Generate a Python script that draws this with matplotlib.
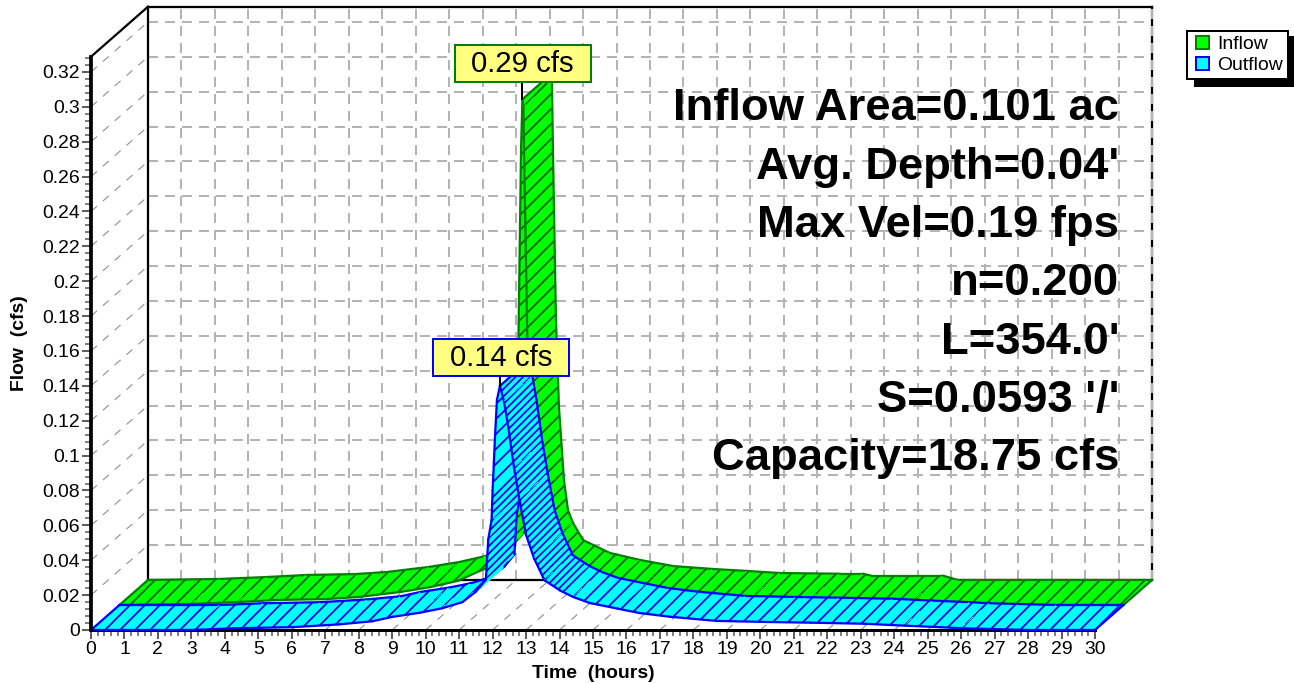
import numpy as np
import matplotlib
matplotlib.use('Agg')
import matplotlib.pyplot as plt
from matplotlib.legend_handler import HandlerPatch
from matplotlib.patches import Patch, Rectangle
from matplotlib.ticker import MultipleLocator, FuncFormatter

plt.rcParams['font.family'] = ['Liberation Sans', 'DejaVu Sans']
plt.rcParams['hatch.linewidth'] = 1.4

# values
inflow_t = [0, 2.15, 3.55, 4.75, 6.2, 7.15, 8.4, 9.3, 10.1, 10.94, 11.23, 11.5, 11.7, 11.85, 11.92, 12.0, 12.04,
            12.07, 12.1, 12.19, 12.28, 12.43, 12.55, 12.7, 13.0, 13.3, 13.8, 14.7, 15.69, 16.88, 17.9, 18.88,
            20.68, 21.36, 21.6, 23.75, 24.2, 30]
inflow_q = [0, 0.0006, 0.0017, 0.0029, 0.0034, 0.0046, 0.0075, 0.0103, 0.0138, 0.021, 0.027, 0.04, 0.06, 0.1, 0.152, 0.2625, 0.29,
            0.2855, 0.2466, 0.149, 0.099, 0.057, 0.04, 0.0327, 0.0229, 0.0201, 0.0155, 0.0115, 0.008, 0.0063, 0.0052, 0.004,
            0.0036, 0.0036, 0.0025, 0.0025, 0, 0]
outflow_t = [0, 3, 4.3, 6, 7.4, 8.4, 9, 9.85, 10.5, 11.1, 11.5, 11.8, 11.87, 11.97, 12.0, 12.07, 12.13, 12.22,
             12.34, 12.46, 12.64, 12.8, 13, 13.24, 13.55, 14.03, 14.4, 14.9, 15.75, 16.4, 17.3, 18.7, 20.2,
             21.5, 23.1, 24.3, 25.4, 26, 28, 30]
outflow_q = [0, 0, 0.001, 0.0016, 0.0032, 0.005, 0.0075, 0.01, 0.0125, 0.016, 0.022, 0.029, 0.052, 0.063, 0.08, 0.11, 0.132, 0.14,
             0.131, 0.1175, 0.093, 0.075, 0.0545, 0.041, 0.0285, 0.0225, 0.019, 0.0155, 0.0122, 0.0097, 0.0076, 0.0052, 0.0046,
             0.0042, 0.0036, 0.0025, 0.0016, 0.001, 0, 0]
# stretches of the outflow where the hatch looks doubled
outflow_dense = [(11.5, 12.0), (12.22, 14.0)]
info_lines = ['Inflow Area=0.101 ac', "Avg. Depth=0.04'", 'Max Vel=0.19 fps', 'n=0.200',
              "L=354.0'", "S=0.0593 '/'", 'Capacity=18.75 cfs']

# depth of the fake 3D box, in data units
DX = 57 / 33.47
DY = 50 / 1744
XMAX = 30
YMAX = 573.3 / 1744

fig = plt.figure(figsize=(1294 / 90, 683 / 90), dpi=90)
ax = fig.add_axes([91 / 1294, 1 - 630 / 683, 1004 / 1294, 573.3 / 683])
ax.set_xlim(0, XMAX)
ax.set_ylim(0, YMAX)
ax.patch.set_alpha(0)

# back wall grid
GRID = '#b4b4b4'
dash = (0, (5, 3.5))
for h in range(1, XMAX + 1):
    ax.plot([h + DX, h + DX], [DY, YMAX + DY], color=GRID, lw=1.6, ls=dash, clip_on=False, zorder=1)
for q in np.arange(0.02, 0.321, 0.02):
    ax.plot([DX, XMAX + DX], [q + DY, q + DY], color=GRID, lw=1.6, ls=dash, clip_on=False, zorder=1)
    ax.plot([0, DX], [q, q + DY], color='#909090', lw=0.9, ls=(0, (7, 7)), clip_on=False, zorder=1)
# floor lines
for h in range(1, XMAX):
    ax.plot([h, h + DX], [0, DY], color='#909090', lw=0.9, ls=(0, (7, 7)), clip_on=False, zorder=1)

# box outline
ax.plot([DX, DX], [DY, YMAX + DY], color='k', lw=1.8, clip_on=False, zorder=1.5)
ax.plot([DX, XMAX + DX], [YMAX + DY, YMAX + DY], color='k', lw=1.8, clip_on=False, zorder=1.5)
ax.plot([DX, XMAX + DX], [DY, DY], color='k', lw=1.8, clip_on=False, zorder=1.5)
ax.plot([XMAX + DX, XMAX + DX], [DY, YMAX + DY], color='k', lw=1.8, clip_on=False, zorder=1.5)
ax.plot([XMAX + DX, XMAX + DX], [DY, YMAX + DY], color=GRID, lw=1.6, ls=dash, clip_on=False, zorder=1.6)
ax.plot([0, DX], [YMAX, YMAX + DY], color='k', lw=1.8, clip_on=False, zorder=1.5)


def ribbon(t, q, d0, d1, face, edge, hatch_col, z, dense=()):
    t = np.array(t)
    q = np.array(q)
    for i in range(len(t) - 1):
        xs = [t[i] + d0 * DX, t[i + 1] + d0 * DX, t[i + 1] + d1 * DX, t[i] + d1 * DX]
        ys = [q[i] + d0 * DY, q[i + 1] + d0 * DY, q[i + 1] + d1 * DY, q[i] + d1 * DY]
        mid = (t[i] + t[i + 1]) / 2
        pat = '////' if any(a <= mid <= b for a, b in dense) else '//'
        ax.fill(xs, ys, facecolor=face, edgecolor=hatch_col, hatch=pat, lw=0, antialiased=False,
                clip_on=False, zorder=z)
        ax.plot(xs[:2], ys[:2], color=edge, lw=1.8, clip_on=False, zorder=z, solid_capstyle='round')
        ax.plot(xs[2:], ys[2:], color=edge, lw=1.8, clip_on=False, zorder=z, solid_capstyle='round')
    peak = int(np.argmax(q))
    for i in (0, peak, len(t) - 1):
        ax.plot([t[i] + d0 * DX, t[i] + d1 * DX], [q[i] + d0 * DY, q[i] + d1 * DY],
                color=edge, lw=1.8, clip_on=False, zorder=z)


ribbon(inflow_t, inflow_q, 0.5, 1.0, '#00ff00', '#008000', '#006000', 2)
ribbon(outflow_t, outflow_q, 0.0, 0.5, '#00ffff', '#0000ff', '#0000e0', 3, outflow_dense)

# axes
for s in ('top', 'right'):
    ax.spines[s].set_visible(False)
ax.spines['left'].set_linewidth(3)
ax.spines['bottom'].set_linewidth(2.4)
ax.spines['left'].set_zorder(4)
ax.spines['bottom'].set_zorder(1.8)
ax.xaxis.set_major_locator(MultipleLocator(1))
ax.xaxis.set_minor_locator(MultipleLocator(0.2))
ax.yaxis.set_major_locator(MultipleLocator(0.02))
ax.yaxis.set_minor_locator(MultipleLocator(0.004))
ax.yaxis.set_major_formatter(FuncFormatter(lambda v, p: '%g' % round(v, 3)))
ax.set_yticks(np.arange(0, 0.321, 0.02))
ax.tick_params(axis='both', which='major', length=7, width=1.6, color='#606060', labelsize=15.5, pad=2)
ax.tick_params(axis='both', which='minor', length=5, width=1.6, color='#808080')
ax.set_xlabel('Time  (hours)', fontsize=15.5, fontweight='bold', labelpad=5)
ax.set_ylabel('Flow  (cfs)', fontsize=15.5, fontweight='bold', labelpad=11)

# peak labels
BOX_W = 136 / 33.47
BOX_H = 37 / 1744


def peak_label(text, xc, yc, px, py, edge):
    ax.plot([px, px], [py, yc], color='k', lw=1.6, clip_on=False, zorder=5)
    ax.add_patch(Rectangle((xc - BOX_W / 2, yc - BOX_H / 2), BOX_W, BOX_H, fc='#ffff80', ec=edge, lw=1.6,
                           clip_on=False, zorder=6))
    ax.text(xc, yc, text, fontsize=23.5, ha='center', va='center', zorder=7)


peak_label('0.29 cfs', 12.9, 0.3248, 12.04 + 0.5 * DX, 0.29 + 0.5 * DY, '#008000')
peak_label('0.14 cfs', 12.25, 0.156, 12.22, 0.14, '#0000ff')

# info block
for i, line in enumerate(info_lines):
    fig.text(1119 / 1294, 1 - (109 + 58.3 * i) / 683, line, ha='right', va='center', fontsize=36.3, fontweight='bold', zorder=7)


# legend swatch sits a bit right of where matplotlib would put it
def swatch(legend, orig_handle, xdescent, ydescent, width, height, fontsize):
    return Rectangle((0.22 * fontsize, 0), height, height)


handles = [Patch(facecolor='#00ff00', edgecolor='#008000', lw=1.6), Patch(facecolor='#00ffff', edgecolor='#0000ff', lw=1.6)]
leg = fig.legend(handles, ['Inflow', 'Outflow'], loc='upper left', bbox_to_anchor=(1187 / 1294, 1 - 31 / 683), fontsize=15.5,
                 fancybox=False, edgecolor='k', framealpha=1, borderaxespad=0, borderpad=0.25, labelspacing=0.19,
                 handlelength=0.9, handleheight=0.68, handletextpad=0.42,
                 handler_map={Patch: HandlerPatch(patch_func=swatch)},
                 shadow={'ox': 6.4, 'oy': -5, 'facecolor': 'k', 'edgecolor': 'k', 'alpha': 1})
leg.get_frame().set_linewidth(1.6)

fig.savefig('out.png', dpi=90)
